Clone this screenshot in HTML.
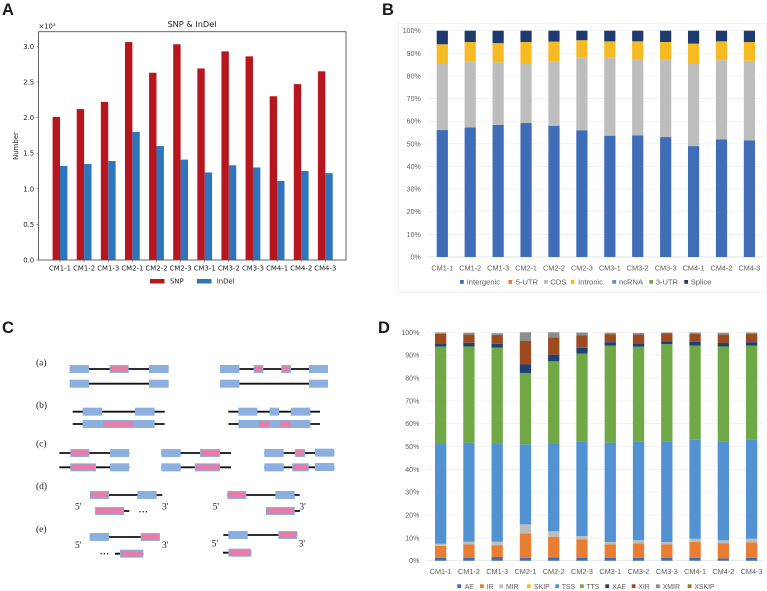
<!DOCTYPE html>
<html lang="en">
<head>
<meta charset="utf-8">
<title>SNP, InDel and alternative splicing figure</title>
<style>
html,body{margin:0;padding:0;background:#fff;}
#figure{display:block;width:767px;height:591px;filter:blur(0.3px);}
text{font-family:"Liberation Sans",sans-serif;}
.mpl{font-family:"DejaVu Sans",sans-serif;font-size:6.9px;fill:#222;}
.xl{font-size:7.3px;fill:#5e5e5e;}
.serif{font-family:"Liberation Serif",serif;font-size:9.5px;fill:#222;}
.panel{font-weight:bold;font-size:16.5px;fill:#1a1a1a;}
</style>
</head>
<body>
<svg id="figure" xmlns="http://www.w3.org/2000/svg" width="767" height="591" viewBox="0 0 767 591">
  <text class="panel" x="2" y="15">A</text>
  <text class="panel" x="382" y="15">B</text>
  <text class="panel" x="2" y="333">C</text>
  <text class="panel" x="378" y="333">D</text>
  <rect x="398.5" y="23.5" width="368" height="269" fill="none" stroke="#f1f1f1"/>
  <g id="panelA"></g>
  <g id="panelB"></g>
  <g id="panelC"></g>
  <g id="panelD"></g>
</svg>
<script>
var samples = ["CM1-1","CM1-2","CM1-3","CM2-1","CM2-2","CM2-3","CM3-1","CM3-2","CM3-3","CM4-1","CM4-2","CM4-3"];

/* Panel A values (x10^3) */
var snpValues = [2.01,2.12,2.22,3.06,2.63,3.03,2.69,2.93,2.86,2.30,2.47,2.65];
var indelValues = [1.32,1.35,1.39,1.80,1.60,1.41,1.23,1.33,1.30,1.11,1.25,1.22];
var aTicks = [0,0.5,1,1.5,2,2.5,3];
var aTickLabels = ["0.0","0.5","1.0","1.5","2.0","2.5","3.0"];

/* Panel B values (%) */
var bIntergenic = [56.1,57.3,58.4,59.2,58,56,53.6,53.7,53,49,52,51.5];
var bFiveUtr = [0,0,0,0,0,0,0,0,0,0,0,0];
var bCds = [29.4,29.2,27.6,26.3,28.5,32,34.4,33.6,34.3,36.5,35,35.2];
var bIntronic = [8.5,8.5,8.5,9.5,8.7,7.8,7.3,8,7.7,8.8,8.3,8.3];
var bNcrna = [0,0,0,0,0,0,0,0,0,0,0,0];
var bThreeUtr = [0,0,0,0,0,0,0,0,0,0,0,0];
var bSplice = [6,5,5.5,5,4.8,4.2,4.7,4.7,5,5.7,4.7,5];

/* Panel D values (%) */
var dAe = [1.2,1.2,1.6,1.3,1.5,1.2,1.2,1.2,1.2,1.2,1,1.2];
var dIr = [5.3,5.9,5.2,10.7,9,8.1,6,6.4,5.9,7.1,6.7,6.8];
var dMir = [0.9,1.2,1.5,3.9,2.4,1.5,1,1.4,1.1,1.3,1.2,1.7];
var dSkip = [0,0,0,0,0,0,0,0,0,0,0,0];
var dTss = [43.9,43.4,43.2,35.1,38.6,41.2,43.5,43,43.8,43.4,43.4,43.3];
var dTts = [42.5,42.1,41.8,31.2,35.8,38.7,42.5,41.7,42.8,41.2,41.5,41.2];
var dXae = [1.4,1.6,1.7,3.7,2.9,2.5,1.5,1.5,1.3,1.6,1.5,1.5];
var dXir = [4.1,3.6,3.8,10.3,7.6,5.4,3.5,3.8,3.5,3.6,3.7,3.7];
var dXmir = [0.6,0.8,0.8,3.8,2.2,1.3,0.6,0.7,0.3,0.5,0.8,0.5];
var dXskip = [0,0,0,0,0,0,0,0,0,0,0,0];

var percentTicks = [0,10,20,30,40,50,60,70,80,90,100];

var NS = "http://www.w3.org/2000/svg";
function make(parent, tag, attrs, txt) {
  var el = document.createElementNS(NS, tag);
  for (var k in attrs) { el.setAttribute(k, attrs[k]); }
  if (txt !== undefined) { el.textContent = txt; }
  parent.appendChild(el);
  return el;
}

/* ---------- Panel A ---------- */
(function () {
  var g = document.getElementById("panelA");
  var left = 38.5, right = 346, top = 31.7, bottom = 260;
  var yScale = function (v) { return bottom - v * 71.2; };
  var xScale = function (i) { return 60 + i * 24.12; };
  var barW = 7.4;

  samples.forEach(function (s, i) {
    var a = make(g, "rect", {x: xScale(i) - barW, y: yScale(snpValues[i]), width: barW, height: bottom - yScale(snpValues[i]), fill: "#b7161f"});
    
    
    var b = make(g, "rect", {x: xScale(i), y: yScale(indelValues[i]), width: barW, height: bottom - yScale(indelValues[i]), fill: "#2f75bb"});
    
    
    var t = make(g, "text", {x: xScale(i), y: 270.5, "text-anchor": "middle", "class": "mpl"}, s);
    
    
    var m = make(g, "line", {x1: xScale(i), x2: xScale(i), y1: bottom, y2: bottom + 2, stroke: "#555", "stroke-width": 0.6});
    
    
  });

  aTicks.forEach(function (v, i) {
    var t = make(g, "text", {x: 34.2, y: yScale(v) + 2.5, "text-anchor": "end", "class": "mpl"}, aTickLabels[i]);
    
    
    var m = make(g, "line", {x1: left - 2, x2: left, y1: yScale(v), y2: yScale(v), stroke: "#555", "stroke-width": 0.6});
    
    
  });

  var frame = make(g, "rect", {x: left, y: top, width: right - left, height: bottom - top, fill: "none", stroke: "#555", "stroke-width": 0.9});
  
  

  var title = make(g, "text", {x: 192, y: 26.8, "text-anchor": "middle", "class": "mpl", style: "font-size:8.2px"}, "SNP & InDel");
  
  

  var exp = make(g, "text", {x: 38.5, y: 28.5, "class": "mpl", style: "font-size:6.8px"}, "\u00d710\u00b3");
  
  

  var yt = make(g, "text", {transform: "translate(18,146) rotate(-90)", "text-anchor": "middle", "class": "mpl"}, "Number");
  
  

  var s1 = make(g, "rect", {x: 150, y: 279, width: 14.5, height: 4.5, fill: "#b7161f"});
  
  
  var l1 = make(g, "text", {x: 170, y: 283.5, "class": "mpl"}, "SNP");
  
  
  var s2 = make(g, "rect", {x: 197, y: 279, width: 14.5, height: 4.5, fill: "#2f75bb"});
  
  
  var l2 = make(g, "text", {x: 216.7, y: 283.5, "class": "mpl"}, "InDel");
  
  
})();

/* ---------- Stacked percent charts ---------- */
function stacked(g, cfg) {
  var yScale = function (v) { return cfg.y0 - (cfg.y0 - cfg.y100) * v / 100; };
  var xScale = function (i) { return cfg.x0 + i * cfg.step; };

  percentTicks.forEach(function (v) {
    var gl = make(g, "line", {x1: cfg.gridL, x2: cfg.gridR, y1: yScale(v), y2: yScale(v), stroke: v === 0 ? "#dcdcdc" : "#ececec", "stroke-width": 0.7});
    
    
    var t = make(g, "text", {x: cfg.labelR, y: yScale(v) + 2.5, "text-anchor": "end", "class": "xl", style: "font-size:7px"}, v + "%");
    
    
  });

  samples.forEach(function (s, i) {
    var acc = 0;
    cfg.series.forEach(function (ser) {
      var v = ser.values[i];
      var yTop = yScale(acc + v);
      var r = make(g, "rect", {x: xScale(i), y: yTop, width: cfg.barW, height: yScale(acc) - yTop, fill: ser.color});
      
      
      acc += v;
    });
    var t = make(g, "text", {x: xScale(i) + cfg.barW / 2, y: cfg.catY, "text-anchor": "middle", "class": "xl"}, s);
    
    
  });

  cfg.series.forEach(function (ser, i) {
    var sw = make(g, "rect", {x: cfg.legendSwatch[i], y: cfg.legendY - 2, width: 3.8, height: 3.8, fill: ser.color});
    
    
    var lb = make(g, "text", {x: cfg.legendText[i], y: cfg.legendY + 2.5, "class": "xl", style: "font-size:" + cfg.legendFont + "px"}, ser.name);
    
    
  });
}

stacked(document.getElementById("panelB"), {
  y0: 257, y100: 30.7, x0: 436.7, step: 27.92, barW: 11.2,
  gridL: 427.7, gridR: 763, labelR: 420.7, catY: 270.5, legendY: 282, legendFont: 7.6,
  legendSwatch: [460,508.5,544,570.7,612.3,649.3,684.3],
  legendText: [466.7,515.7,550.3,578,619,655.7,690.7],
  series: [
    {name: "Intergenic", color: "#3f6db8", values: bIntergenic},
    {name: "5-UTR", color: "#e57a35", values: bFiveUtr},
    {name: "CDS", color: "#bdbdbd", values: bCds},
    {name: "Intronic", color: "#f6bb22", values: bIntronic},
    {name: "ncRNA", color: "#5b93cf", values: bNcrna},
    {name: "3-UTR", color: "#70a84a", values: bThreeUtr},
    {name: "Splice", color: "#1f3a6e", values: bSplice}
  ]
});

stacked(document.getElementById("panelD"), {
  y0: 560.7, y100: 332.3, x0: 435, step: 28.27, barW: 11.3,
  gridL: 425.7, gridR: 763, labelR: 419.3, catY: 574.2, legendY: 586.3, legendFont: 6.9,
  legendSwatch: [457.3,480,499.3,527,555.3,580,605.3,631.7,656,687.7],
  legendText: [464.7,486.7,506,534,561.7,586.3,612.3,638.3,662.7,694.3],
  series: [
    {name: "AE", color: "#3f6db8", values: dAe},
    {name: "IR", color: "#e87d33", values: dIr},
    {name: "MIR", color: "#bdbdbd", values: dMir},
    {name: "SKIP", color: "#f6bb22", values: dSkip},
    {name: "TSS", color: "#5392d2", values: dTss},
    {name: "TTS", color: "#70a845", values: dTts},
    {name: "XAE", color: "#1f3f78", values: dXae},
    {name: "XIR", color: "#9c4a20", values: dXir},
    {name: "XMIR", color: "#8d8d8d", values: dXmir},
    {name: "XSKIP", color: "#9c7420", values: dXskip}
  ]
});

/* ---------- Panel C schematic ---------- */
(function () {
  var g = document.getElementById("panelC");
  var X = function (v) { return v / 3; };
  var Y = function (v) { return 310 + v / 3; };
  var lines = [
    [267,447,177],[267,447,221],[718,927,177],[718,927,221],
    [218,494,305],[218,494,342],[685,960,305],[685,960,342],
    [178,388,429],[178,388,472],[484,693,429],[484,693,472],[793,1003,429],[793,1003,472],
    [270,487,555],[285,388,603],[682,899,555],[798,900,603],
    [269,480,681],[345,430,731],[670,892,675],[669,754,728]
  ];
  var blues = [
    [209,267,177],[447,506,177],[209,267,221],[447,506,221],
    [660,718,177],[927,984,177],[660,718,221],[927,984,221],
    [248,306,305],[405,464,305],[248,464,342],
    [715,772,305],[809,837,305],[873,931,305],[715,931,342],
    [330,387,429],[330,387,472],[484,542,429],[484,542,472],
    [793,851,429],[945,1003,428],[793,851,472],[945,1003,471],
    [412,470,555],[826,884,555],
    [269,327,681],[685,743,675]
  ];
  var pinks = [
    [329,386,177],[761,790,177],[844,873,177],
    [306,405,342],[775,810,342],[838,875,342],
    [211,268,429],[211,288,472],[600,660,429],[584,660,472],[885,915,429],[877,926,472],
    [270,327,555],[285,372,603],[682,739,555],[798,884,603],
    [422,480,681],[360,430,731],[835,892,675],[685,754,728]
  ];
  var labels = [["(a)",108,167],["(b)",108,294],["(c)",108,409],["(d)",108,537],["(e)",108,666]];
  var primes = [["5'",225,599],["3'",486,599],["5'",638,599],["3'",898,599],["5'",225,714],["3'",486,714],["5'",635,709],["3'",896,709]];
  var dots = [["\u2026",415,607],["\u2026",299,734]];

  lines.forEach(function (l) {
    var e = make(g, "line", {x1: X(l[0]), x2: X(l[1]), y1: Y(l[2]), y2: Y(l[2]), stroke: "#111", "stroke-width": 1.8});
    
    
  });
  blues.forEach(function (b) {
    var e = make(g, "rect", {x: X(b[0]), y: Y(b[2]) - 4, width: X(b[1] - b[0]), height: 8, fill: "#8bafdf"});
    
    
  });
  pinks.forEach(function (p) {
    var e = make(g, "rect", {x: X(p[0]), y: Y(p[2]) - 4, width: X(p[1] - p[0]), height: 8, fill: "#8bafdf"});
    
    
    var f = make(g, "rect", {x: X(p[0]) + 1, y: Y(p[2]) - 2.8, width: X(p[1] - p[0]) - 2, height: 5.6, fill: "#ea7ba6"});
    
    
  });
  labels.forEach(function (t) {
    var e = make(g, "text", {x: X(t[1]), y: Y(t[2]), "class": "serif"}, t[0]);
    
    
  });
  primes.forEach(function (t) {
    var e = make(g, "text", {x: X(t[1]), y: Y(t[2]), "class": "serif"}, t[0]);
    
    
  });
  dots.forEach(function (t) {
    var e = make(g, "text", {x: X(t[1]), y: Y(t[2]), "class": "serif", style: "font-weight:bold"}, t[0]);
    
    
  });
})();
</script>
</body>
</html>
